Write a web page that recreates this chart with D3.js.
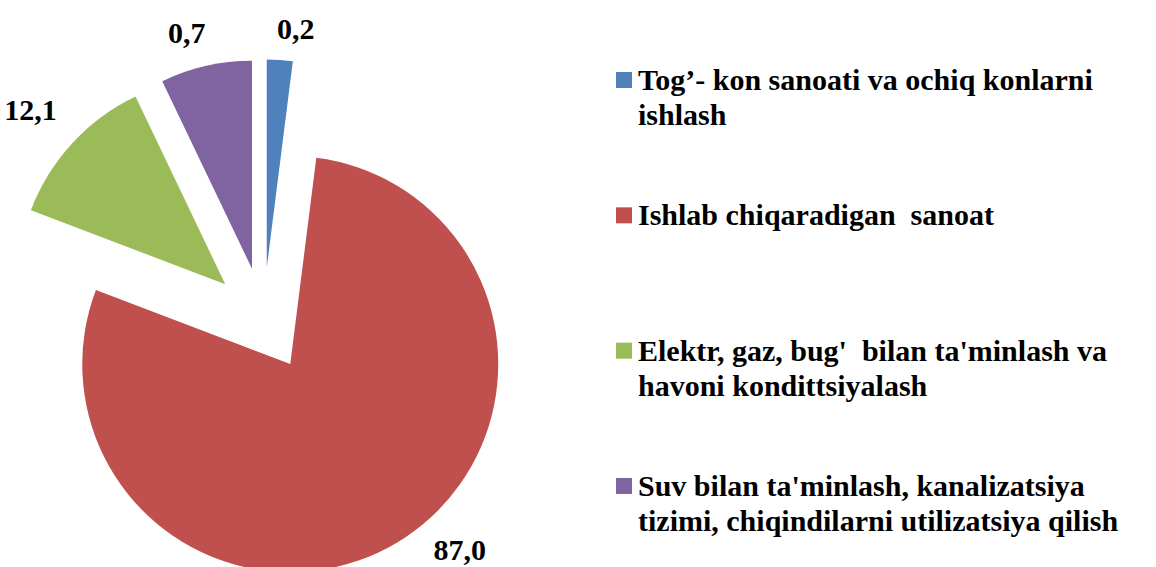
<!DOCTYPE html>
<html>
<head>
<meta charset="utf-8">
<script src="https://cdn.jsdelivr.net/npm/d3@7"></script>
<style>
  html, body { margin: 0; padding: 0; background: #fff; }
  svg { display: block; }
</style>
</head>
<body>
<div id="chart"></div>
<script>
// slice shares as drawn, and the labels printed on the chart
var sectors = ["Tog'- kon", "Ishlab chiqaradigan", "Elektr, gaz", "Suv"];
var shares = [2.0, 78.8, 12.1, 7.1];
var valueLabels = ["0,2", "87,0", "12,1", "0,7"];
var colors = ["#4F81BD", "#C0504D", "#9BBB59", "#8064A2"];
var legendLines = [
  ["Tog’- kon sanoati va ochiq konlarni", "ishlash"],
  ["Ishlab chiqaradigan  sanoat"],
  ["Elektr, gaz, bug'  bilan ta'minlash va", "havoni kondittsiyalash"],
  ["Suv bilan ta'minlash, kanalizatsiya", "tizimi, chiqindilarni utilizatsiya qilish"]
];

var W = 1156, H = 567;
var cx = 263.5, cy = 319.5, radius = 208, explode = 52;
var font = "'Liberation Serif', 'Times New Roman', serif";

var svg = d3.select("#chart")
  .append("svg")
  .attr("width", W)
  .attr("height", H)
  .style("font-family", font)
  .style("font-weight", "bold");

var pie = d3.pie().sort(null).value(function (d) { return d; });
var arc = d3.arc().innerRadius(0).outerRadius(radius);
var arcs = pie(shares);

function mid(d) { return (d.startAngle + d.endAngle) / 2; }

var g = svg.append("g").attr("transform", "translate(" + cx + "," + cy + ")");

// exploded slices
var slices = g.selectAll("g.slice")
  .data(arcs)
  .enter()
  .append("g")
  .attr("class", "slice")
  .attr("transform", function (d) {
    var a = mid(d);
    return "translate(" + (explode * Math.sin(a)) + "," + (-explode * Math.cos(a)) + ")";
  });

slices.append("path")
  .attr("d", arc)
  .attr("fill", function (d, i) { return colors[i]; });

// data labels, outside end
slices.append("text")
  .style("font-family", font)
  .style("font-weight", "bold")
  .style("font-size", "30px")
  .attr("text-anchor", "middle")
  .attr("dy", "0.35em")
  .text(function (d, i) { return valueLabels[i]; })
  .each(function (d) {
    var a = mid(d);
    var s = Math.sin(a);
    var w = this.getComputedTextLength();
    var R = radius + 30 + (w / 2) * Math.abs(s);
    // box corner leans away from the pie
    var x = R * s + Math.sign(s) * (w / 2) * (1 - Math.abs(s)) * 0.8;
    var y = -R * Math.cos(a);
    // keep the label inside the picture: slide it along its circle
    var ey = -explode * Math.cos(a);
    var maxY = H - 17 - cy - ey;
    if (y > maxY) {
      var t = Math.acos(maxY / R);
      x = R * Math.sin(t) * (s >= 0 ? 1 : -1);
      y = maxY;
    }
    d3.select(this).attr("x", x).attr("y", y);
  });

// legend
var legendY = d3.scaleLinear().domain([0, sectors.length - 1]).range([72, 478]);
var legend = svg.selectAll("g.legend")
  .data(sectors)
  .enter()
  .append("g")
  .attr("class", "legend")
  .attr("transform", function (d, i) { return "translate(616," + legendY(i) + ")"; });

legend.append("rect")
  .attr("width", 16)
  .attr("height", 16)
  .attr("fill", function (d, i) { return colors[i]; });

legend.append("text")
  .style("font-family", font)
  .style("font-weight", "bold")
  .style("font-size", "30px")
  .style("white-space", "pre")
  .each(function (d, i) {
    var t = d3.select(this);
    legendLines[i].forEach(function (line, j) {
      t.append("tspan")
        .attr("x", 22)
        .attr("y", 18 + j * 35)
        .text(line);
    });
  });
</script>
</body>
</html>
